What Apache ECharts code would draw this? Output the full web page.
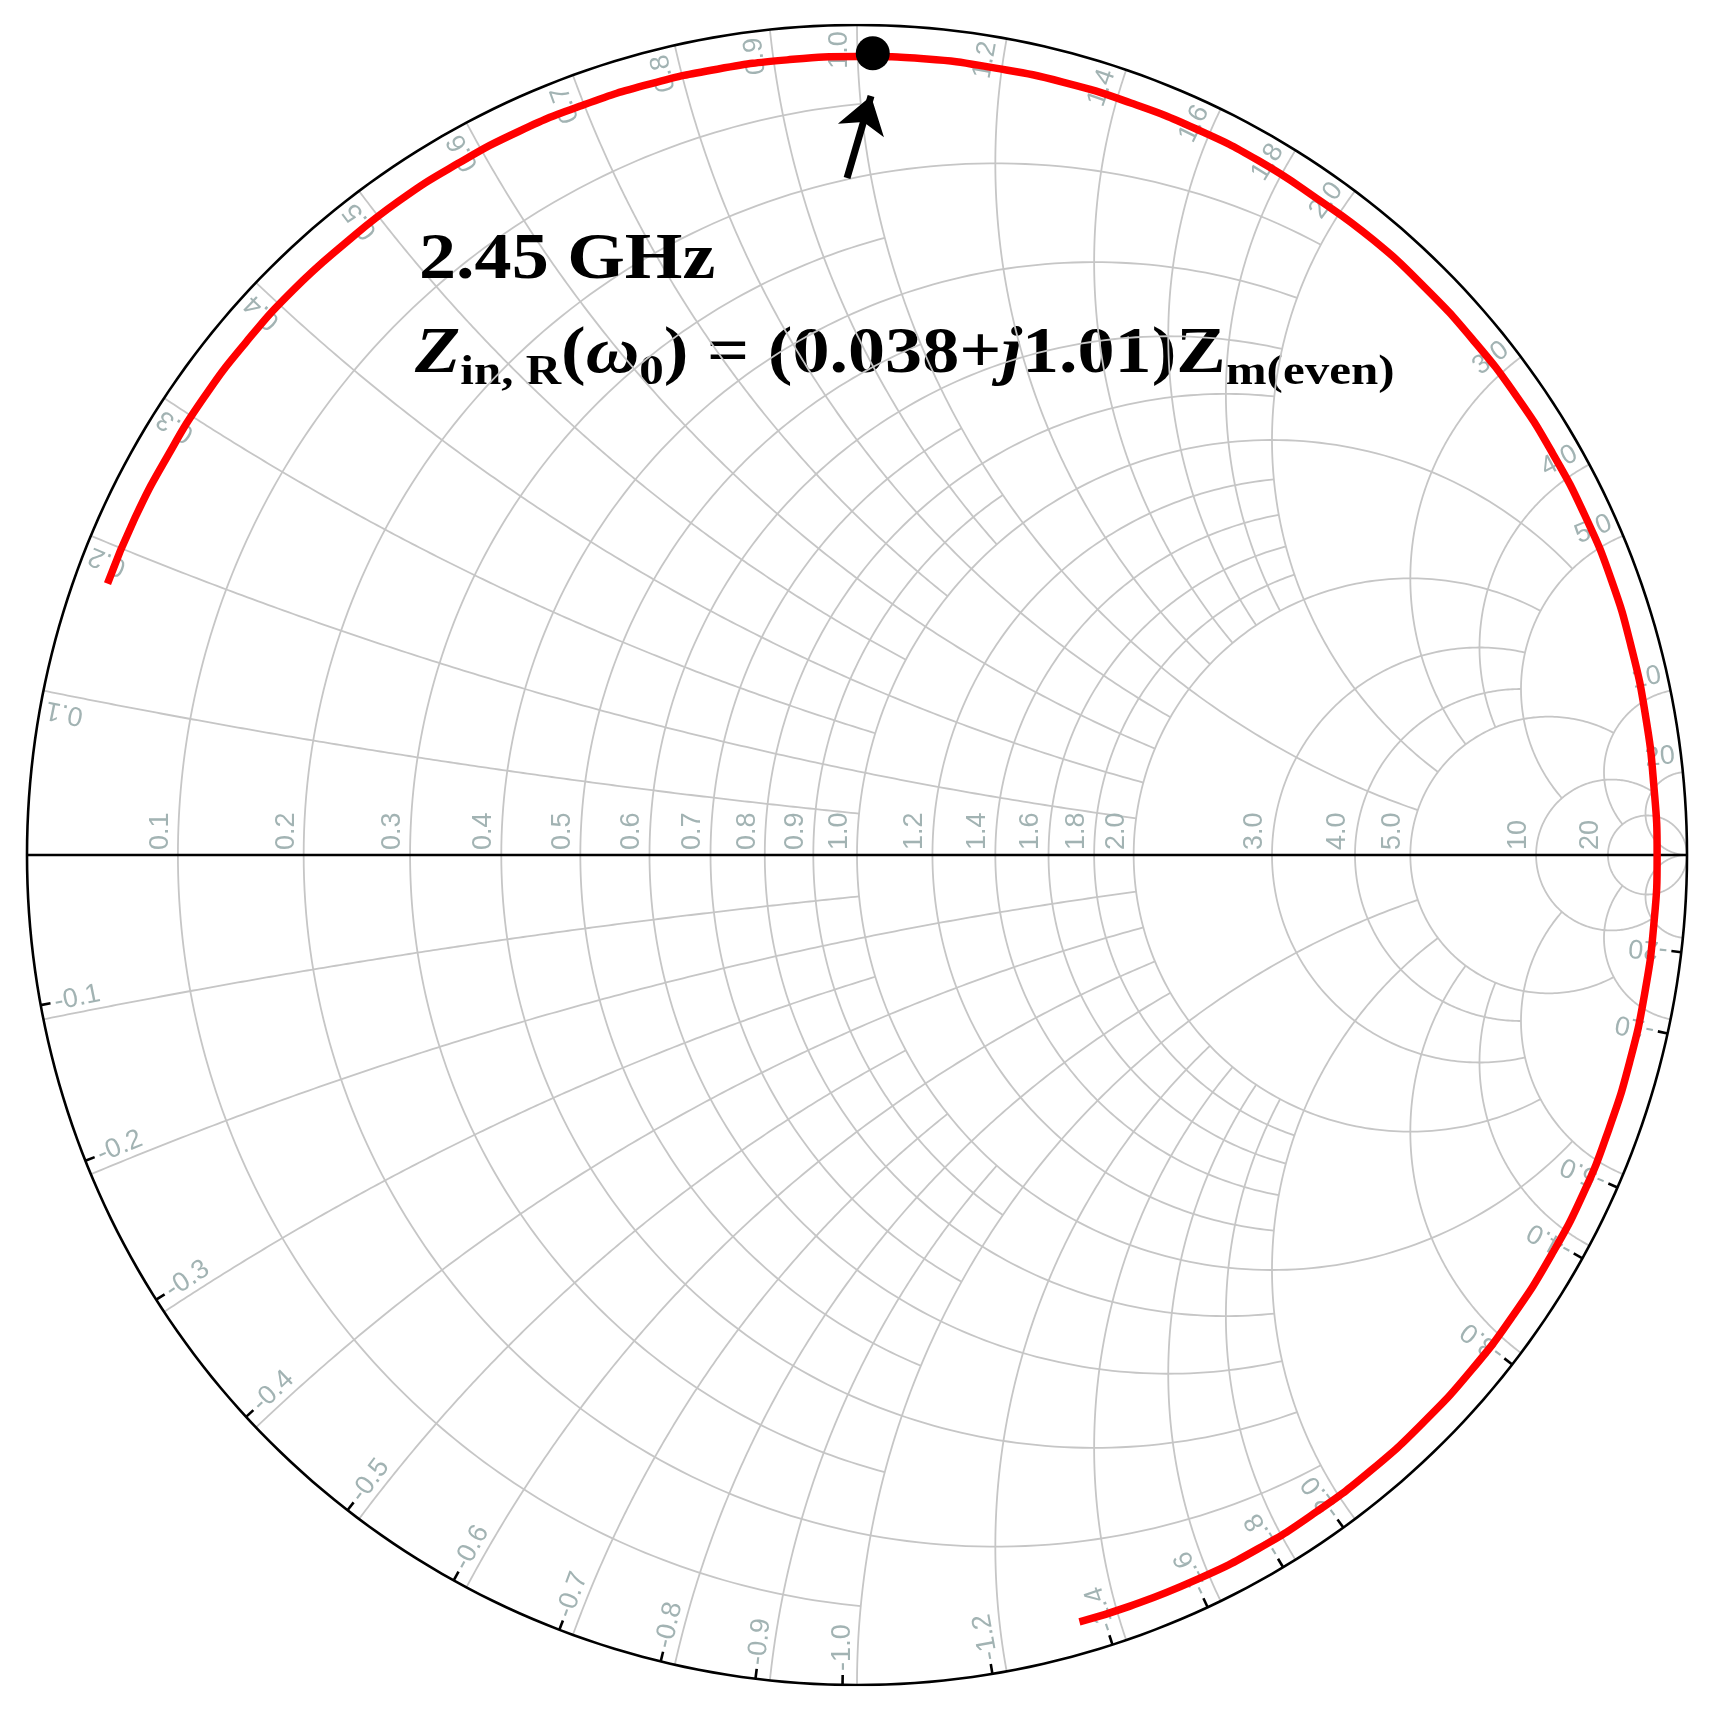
<!DOCTYPE html>
<html>
<head>
<meta charset="utf-8">
<script src="https://cdn.jsdelivr.net/npm/echarts@6/dist/echarts.min.js"></script>
<style>
  html, body { margin: 0; padding: 0; background: #fff; }
  #chart { width: 1714px; height: 1714px; }
</style>
</head>
<body>
<div id="chart"></div>
<script>
// grid values of the Smith chart (same set for resistance and reactance)
var gridTicks = [0.1, 0.2, 0.3, 0.4, 0.5, 0.6, 0.7, 0.8, 0.9, 1.0, 1.2, 1.4, 1.6, 1.8, 2.0, 3.0, 4.0, 5.0, 10, 20];
var tickLabels = ['0.1', '0.2', '0.3', '0.4', '0.5', '0.6', '0.7', '0.8', '0.9', '1.0', '1.2', '1.4', '1.6', '1.8', '2.0', '3.0', '4.0', '5.0', '10', '20'];
// where each grid line stops: r circle up to this |x|, x arc up to this r
var gridStop = [1, 2, 1, 2, 1, 2, 1, 2, 1, 5, 2, 2, 2, 2, 5, 5, 5, 10, 20, Infinity];

// measured trace, reflection coefficient (real / imaginary)
var gammaRe = [-0.903, -0.870, -0.831, -0.787, -0.736, -0.680, -0.618, -0.552, -0.481, -0.407, -0.329, -0.249,
               -0.167, -0.084, 0.000, 0.084, 0.167, 0.249, 0.330, 0.408, 0.483, 0.554, 0.622, 0.684,
               0.741, 0.793, 0.838, 0.877, 0.909, 0.933, 0.950, 0.960, 0.964, 0.960, 0.949, 0.931,
               0.906, 0.875, 0.836, 0.791, 0.740, 0.683, 0.621, 0.554, 0.483, 0.407, 0.329, 0.268];
var gammaIm = [0.327, 0.406, 0.480, 0.551, 0.618, 0.680, 0.736, 0.788, 0.833, 0.872, 0.904, 0.929,
               0.947, 0.958, 0.962, 0.959, 0.948, 0.931, 0.906, 0.875, 0.837, 0.791, 0.741, 0.684,
               0.622, 0.555, 0.484, 0.409, 0.331, 0.250, 0.168, 0.084, 0.000, -0.084, -0.167, -0.249,
               -0.330, -0.408, -0.483, -0.554, -0.621, -0.683, -0.740, -0.791, -0.836, -0.874, -0.905, -0.924];
// 2.45 GHz point
var markRe = [0.019];
var markIm = [0.966];
// arrow pointing at it (tail, head)
var arrowRe = [-0.012, 0.0169];
var arrowIm = [0.8157, 0.9145];

var chart = echarts.init(document.getElementById('chart'));

// z = r + jx  ->  gamma
function toGamma(r, x) {
    var den = (r + 1) * (r + 1) + x * x;
    return [(r * r - 1 + x * x) / den, 2 * x / den];
}

function arc(cx, cy, rad, a0, a1, n) {
    var pts = [];
    for (var i = 0; i <= n; i++) {
        var a = a0 + (a1 - a0) * i / n;
        pts.push([cx + rad * Math.cos(a), cy + rad * Math.sin(a)]);
    }
    return pts;
}

var gridLines = [];
gridTicks.forEach(function (v, i) {
    var lim = gridStop[i];
    // resistance circle
    var c = v / (v + 1), a = 1 / (v + 1), t0 = 0;
    if (lim !== Infinity) {
        var g = toGamma(v, lim);
        t0 = Math.atan2(g[1], g[0] - c);
    }
    gridLines.push({ coords: arc(c, 0, a, t0, 2 * Math.PI - t0, 240) });
    // reactance arcs, + and -
    var g0 = toGamma(0, v);
    var s0 = Math.atan2(g0[1] - 1 / v, g0[0] - 1);
    var s1 = -Math.PI / 2;
    if (lim !== Infinity) {
        var g1 = toGamma(lim, v);
        s1 = Math.atan2(g1[1] - 1 / v, g1[0] - 1);
    }
    while (s1 < s0) s1 += 2 * Math.PI;
    var up = arc(1, 1 / v, 1 / v, s0, s1, 200);
    gridLines.push({ coords: up });
    gridLines.push({ coords: up.map(function (p) { return [p[0], -p[1]]; }) });
});

var frame = [];
frame.push({ coords: arc(0, 0, 1, 0, 2 * Math.PI, 360) });
frame.push({ coords: [[-1, 0], [1, 0]] });
gridTicks.forEach(function (v) {
    var g0 = toGamma(0, v);
    var phi = Math.atan2(-g0[1], g0[0]) - Math.PI / 180;
    frame.push({ coords: [[Math.cos(phi), Math.sin(phi)], [0.988 * Math.cos(phi), 0.988 * Math.sin(phi)]] });
});

var trace = gammaRe.map(function (v, i) { return [v, gammaIm[i]]; });

chart.setOption({
    animation: false,
    backgroundColor: '#ffffff',
    grid: { left: 27, top: 25, width: 1660, height: 1660 },
    xAxis: { type: 'value', min: -1, max: 1, show: false },
    yAxis: { type: 'value', min: -1, max: 1, show: false },
    series: [
        {
            type: 'lines', coordinateSystem: 'cartesian2d', polyline: true, silent: true, z: 1,
            lineStyle: { color: '#c6c6c6', width: 1.8, opacity: 1 },
            data: gridLines
        },
        {
            type: 'lines', coordinateSystem: 'cartesian2d', polyline: true, silent: true, z: 2,
            lineStyle: { color: '#000000', width: 2.6, opacity: 1 },
            data: frame
        },
        {
            type: 'line', data: trace, smooth: true, showSymbol: false, z: 4,
            lineStyle: { color: '#ff0000', width: 7.5 }
        },
        {
            type: 'scatter', data: [[markRe[0], markIm[0]]], symbolSize: 34, z: 5,
            itemStyle: { color: '#000000', opacity: 1 }
        },
        {
            type: 'lines', coordinateSystem: 'cartesian2d', z: 6,
            symbol: ['none', 'arrow'], symbolSize: 36,
            lineStyle: { color: '#000000', width: 7, opacity: 1 },
            data: [{ coords: [[arrowRe[0], arrowIm[0]], [arrowRe[1], arrowIm[1]]] }]
        }
    ]
});

// tick labels
var graphics = [];
var labFont = { fontSize: 27, fontFamily: '"Liberation Sans", Arial, sans-serif', fill: '#a2b3b3' };
function px(gx, gy) { return chart.convertToPixel({ gridIndex: 0 }, [gx, gy]); }
function lab(text, p, rot, align, va) {
    graphics.push({
        type: 'text', x: p[0], y: p[1], rotation: rot, z: 1, silent: true,
        style: Object.assign({ text: text, align: align, verticalAlign: va }, labFont)
    });
}
gridTicks.forEach(function (v, i) {
    var g = toGamma(v, 0);
    var p = px(g[0], 0);
    lab(tickLabels[i], [p[0] - 4, p[1] - 5], Math.PI / 2, 'left', 'bottom');
    var g0 = toGamma(0, v);
    var phi = Math.atan2(g0[1], g0[0]);
    var a = phi + 1.2 * Math.PI / 180, rr = 1 - 6 / 830;
    lab(tickLabels[i], px(rr * Math.cos(a), rr * Math.sin(a)), phi, 'right', 'middle');
    var b = -phi - Math.PI / 180, rb = 1 - 14 / 830;
    lab('-' + tickLabels[i], px(rb * Math.cos(b), rb * Math.sin(b)), -phi + Math.PI, 'left', 'middle');
});

// annotation text
var serif = '"Liberation Serif", "Times New Roman", serif';
var ctx = document.createElement('canvas').getContext('2d');
function textW(s, size, italic) {
    ctx.font = (italic ? 'italic ' : '') + 'bold ' + size + 'px ' + serif;
    return ctx.measureText(s).width;
}
var big = 65, small = 43;
var parts = [
    ['Z', big, true, 0], ['in, R', small, false, 11], ['(', big, false, 0], ['\u03c9', big, true, 0],
    ['0', small, false, 11], [') = (0.038+', big, false, 0], ['j', big, true, 0], ['1.01)Z', big, false, 0],
    ['m(even)', small, false, 11]
];
var kids = [], cx = 0;
parts.forEach(function (q) {
    kids.push({
        type: 'text', x: cx, y: q[3] - 0.34 * q[1],
        style: { text: q[0], fontSize: q[1], fontWeight: 'bold', fontStyle: q[2] ? 'italic' : 'normal',
                 fontFamily: serif, fill: '#000', align: 'left', verticalAlign: 'middle' }
    });
    cx += textW(q[0], q[1], q[2]);
});
graphics.push({
    type: 'text', x: 419, y: 283 - 0.34 * big, scaleX: 1.14, z: 20,
    style: { text: '2.45 GHz', fontSize: big, fontWeight: 'bold', fontFamily: serif, fill: '#000',
             align: 'left', verticalAlign: 'middle' }
});
graphics.push({ type: 'group', x: 415, y: 377, scaleX: 1.14, z: 20, children: kids });

chart.setOption({ graphic: graphics });
window.onresize = chart.resize;
</script>
</body>
</html>
